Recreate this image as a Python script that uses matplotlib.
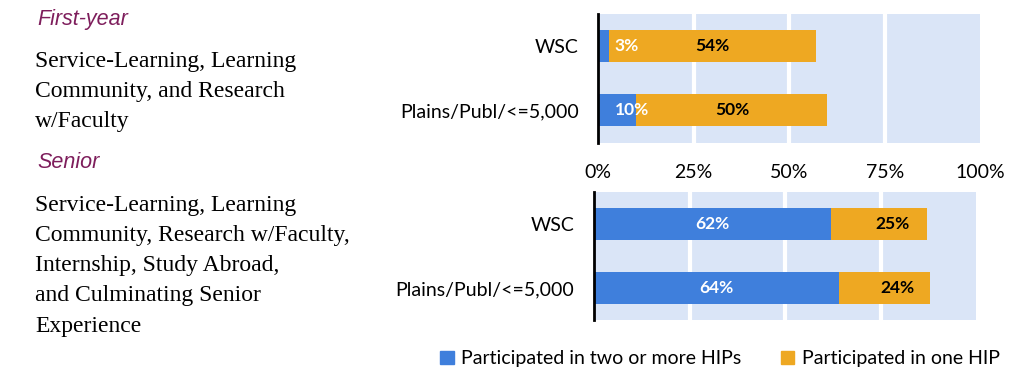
import matplotlib
matplotlib.use('Agg')
import matplotlib.pyplot as plt
from matplotlib.patches import Patch

# data
groups = ['WSC', 'Plains/Publ/<=5,000']
fy_two = [3, 10]
fy_one = [54, 50]
sr_two = [62, 64]
sr_one = [25, 24]
ticks = [0, 25, 50, 75, 100]
tick_labels = ['0%', '25%', '50%', '75%', '100%']
legend_labels = ['Participated in two or more HIPs', 'Participated in one HIP']
fy_lines = ['Service-Learning, Learning', 'Community, and Research', 'w/Faculty']
sr_lines = ['Service-Learning, Learning', 'Community, Research w/Faculty,',
            'Internship, Study Abroad,', 'and Culminating Senior', 'Experience']

blue = '#3F7FDC'
orange = '#EEA822'
bg = '#DAE5F7'
purple = '#7E1E5C'
lab_font = 'Lato'

fig = plt.figure(figsize=(10.17, 3.68), dpi=100)

ax1 = fig.add_axes([0.588, 0.611, 0.376, 0.351])
ax2 = fig.add_axes([0.584, 0.130, 0.376, 0.348])


def draw(ax, two, one, ylim, label_shift):
    y = list(range(len(groups)))
    ax.set_facecolor(bg)
    ax.barh(y, two, height=0.5, color=blue, zorder=3)
    ax.barh(y, one, left=two, height=0.5, color=orange, zorder=3)
    for i in y:
        if two[i] > 15:
            ax.text(two[i] / 2, i, f'{two[i]}%', color='white', fontweight='bold',
                    ha='center', va='center', fontsize=12.5, family=lab_font, zorder=4)
        else:
            ax.text(4.3, i, f'{two[i]}%', color='white', fontweight='bold',
                    ha='left', va='center', fontsize=12.5, family=lab_font, zorder=4)
        ax.text(two[i] + one[i] / 2 + label_shift, i, f'{one[i]}%', color='black',
                fontweight='bold', ha='center', va='center', fontsize=12.5,
                family=lab_font, zorder=4)
    ax.set_xlim(0, 100)
    ax.set_ylim(*ylim)
    ax.set_yticks(y)
    ax.set_yticklabels(groups, fontsize=14, family=lab_font)
    ax.set_xticks(ticks)
    for t in ticks[1:-1]:
        ax.axvline(t, color='white', lw=3, zorder=2)
    for s in ['top', 'right', 'bottom']:
        ax.spines[s].set_visible(False)
    ax.spines['left'].set_color('black')
    ax.spines['left'].set_linewidth(2)
    ax.spines['left'].set_zorder(5)
    ax.tick_params(axis='both', length=0)
    ax.tick_params(axis='y', pad=14)


draw(ax1, fy_two, fy_one, (1.52, -0.5), 0)
ax1.set_xticklabels(tick_labels, fontsize=14, family=lab_font)
ax1.tick_params(axis='x', pad=15)

draw(ax2, sr_two, sr_one, (1.5, -0.5), 3.5)
ax2.set_xticklabels([])

# left-hand descriptions
H = 368.0
fig.text(37 / 1017, 1 - 19 / H, 'First-year', color=purple, style='italic',
         fontsize=15.5, family='Liberation Sans', va='center')
for k, line in enumerate(fy_lines):
    fig.text(35 / 1017, 1 - (61 + 30 * k) / H, line, fontsize=17,
             family='Liberation Serif', va='center')
fig.text(37 / 1017, 1 - 162 / H, 'Senior', color=purple, style='italic',
         fontsize=15.5, family='Liberation Sans', va='center')
for k, line in enumerate(sr_lines):
    fig.text(35 / 1017, 1 - (205 + 30.3 * k) / H, line, fontsize=17,
             family='Liberation Serif', va='center')

handles = [Patch(color=blue), Patch(color=orange)]
fig.legend(handles, legend_labels, loc='center', bbox_to_anchor=(0.708, 0.025),
           ncol=2, frameon=False, handlelength=0.7, handleheight=0.7,
           handletextpad=0.4, columnspacing=2.0, prop={'family': lab_font, 'size': 14})

fig.savefig('out.png', dpi=100)
